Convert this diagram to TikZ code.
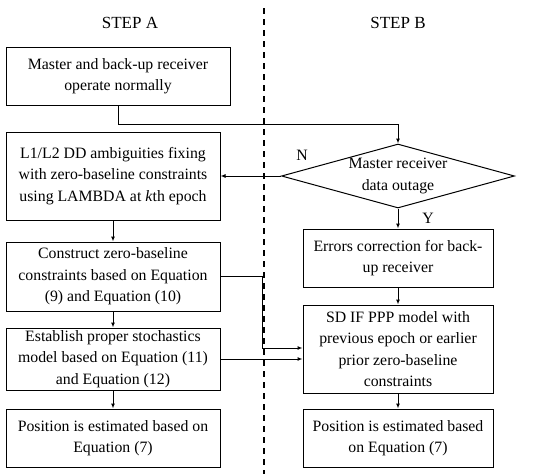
\documentclass[tikz,border=0pt]{standalone}
\usepackage{fontspec}
\setmainfont{Liberation Serif}
\usetikzlibrary{shapes.geometric,arrows.meta}
\begin{document}
\begin{tikzpicture}[x=1pt,y=-1pt,
  every node/.style={font=\fontsize{15.8}{21.5}\selectfont},
  box/.style={draw,line width=1pt,align=center,inner sep=2pt},
  colA/.style={box,minimum width=214pt},
  colB/.style={box,minimum width=190pt},
  arr/.style={line width=1pt,-{Latex[length=5pt,width=4pt]}},
  lbl/.style={inner sep=0pt},
  steplbl/.style={inner sep=0pt,font=\fontsize{17}{20}\selectfont}]
\useasboundingbox (0,0) rectangle (550,474);
\draw[line width=1.6pt,dash pattern=on 6pt off 5pt] (264,8) -- (264,474);
\node[steplbl] (ta) at (130,23) {STEP A};
\node[steplbl] (tb) at (398,23) {STEP B};
\node[box,minimum width=224pt,minimum height=58pt] (a1) at (118,76) {Master and back-up receiver\\operate normally};
\node[colA,minimum height=88pt] (a2) at (113,176) {L1/L2 DD ambiguities fixing\\with zero-baseline constraints\\using LAMBDA at \textit{k}th epoch};
\node[colA,minimum height=69pt] (a3) at (113,276.5) {Construct zero-baseline\\constraints based on Equation\\(9) and Equation (10)};
\node[colA,minimum height=62pt] (a4) at (113,359) {Establish proper stochastics\\model based on Equation (11)\\and Equation (12)};
\node[colA,minimum height=58pt] (a5) at (113,438) {Position is estimated based on\\Equation (7)};
\node[draw,line width=1pt,diamond,shape aspect=3.64,inner sep=0pt,minimum width=233pt,minimum height=64pt,align=center] (d) at (398,176) {Master receiver\\data outage};
\node[colB,minimum height=58pt] (b1) at (398,258) {Errors correction for back-\\up receiver};
\node[colB,minimum height=88pt] (b2) at (398,349) {SD IF PPP model with\\previous epoch or earlier\\prior zero-baseline\\constraints};
\node[colB,minimum height=58pt] (b3) at (398,438) {Position is estimated based\\on Equation (7)};
\node[lbl] (ln) at (302,155) {N};
\node[lbl] (ly) at (428,218) {Y};
\coordinate (j1) at (398,124);
\coordinate (j2) at (262,348);
\draw[arr] (a1.south) |- (j1) -- (d.north);
\draw[arr] (d.west) -- (a2.east);
\draw[arr] (d.south) -- (b1.north);
\draw[arr] (a2) -- (a3);
\draw[arr] (a3) -- (a4);
\draw[arr] (a4) -- (a5);
\draw[arr] (b1) -- (b2);
\draw[arr] (b2) -- (b3);
\draw[arr] (a3.east) -| (j2) -- (j2 -| b2.west);
\draw[arr] (a4.east) -- (a4.east -| b2.west);
\end{tikzpicture}
\end{document}
